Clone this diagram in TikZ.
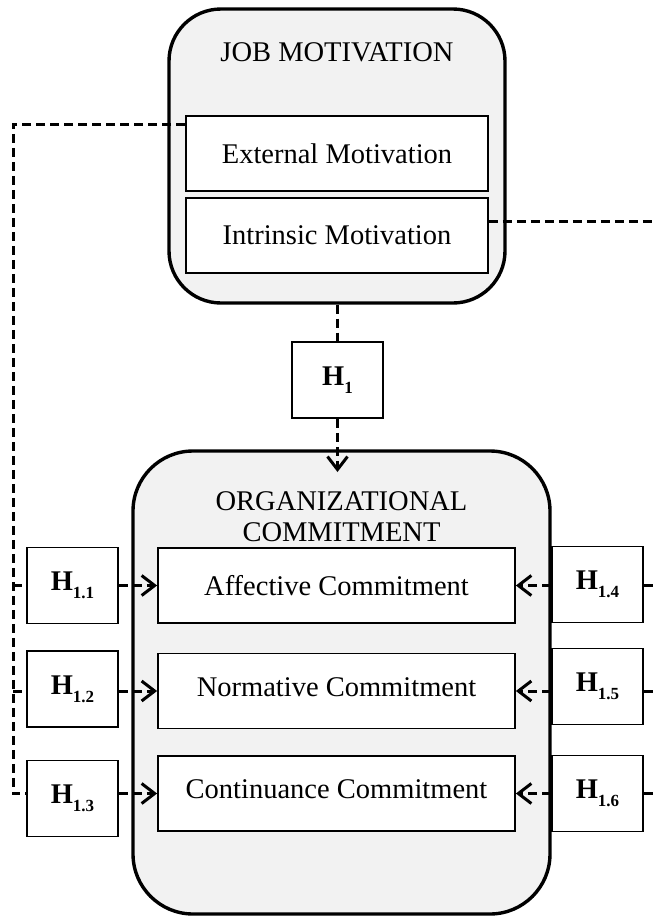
\documentclass[tikz,border=0pt]{standalone}
\usepackage{fontspec}
\setmainfont{Liberation Serif}
\usetikzlibrary{arrows.meta,calc}
\definecolor{boxgray}{RGB}{242,242,242}
\newcommand\hlab[1]{\textbf{H\raisebox{-0.28em}{\fontsize{17}{17}\selectfont\textbf{#1}}}}
\begin{document}
\begin{tikzpicture}[x=1pt,y=-1pt,
  font=\fontsize{28.5}{32}\selectfont,
  outerbox/.style={draw, line width=3.4pt, fill=boxgray, rounded corners=52pt, inner sep=0pt},
  innerbox/.style={draw, line width=1.8pt, fill=white, inner sep=0pt, minimum width=302pt, minimum height=75pt},
  commbox/.style={draw, line width=1.8pt, fill=white, inner sep=0pt, minimum width=357pt, minimum height=75pt},
  hbox/.style={draw, line width=1.8pt, fill=white, inner sep=0pt, minimum width=91pt, minimum height=76pt},
  dline/.style={line width=3pt, dash pattern=on 9pt off 5pt},
  arr/.style={dline, -{Straight Barb[length=13pt,width=20pt,line width=3pt]}}]
\useasboundingbox (0,0) rectangle (656,916);
% Job motivation
\node[outerbox, minimum width=336pt, minimum height=294pt] (job) at (337,156) {};
\node (jobtitle) at (337,52) {JOB MOTIVATION};
\node[innerbox] (ext) at (337,153.5) {External Motivation};
\node[innerbox] (int) at (337,235.5) {Intrinsic Motivation};
% H1
\node[hbox] (h1) at (337.5,380) {\hlab{1}};
% Organizational commitment
\node[outerbox, rounded corners=60pt, minimum width=417pt, minimum height=463pt] (org) at (341.5,682.5) {};
\node[align=center, font=\fontsize{28.5}{31}\selectfont] (orgtitle) at (341.5,517) {ORGANIZATIONAL\\COMMITMENT};
\node[commbox] (aff) at (336.5,585.5) {\raisebox{1pt}{Affective Commitment}};
\node[commbox] (norm) at (336.5,691) {\raisebox{8pt}{Normative Commitment}};
\node[commbox] (cont) at (336.5,793.5) {\raisebox{9pt}{Continuance Commitment}};
% hypothesis boxes
\node[hbox] (h11) at (72.5,585.5) {\hlab{1.1}};
\node[hbox] (h12) at (72.5,689) {\hlab{1.2}};
\node[hbox] (h13) at (72.5,798.5) {\hlab{1.3}};
\node[hbox] (h14) at (597.5,584.5) {\hlab{1.4}};
\node[hbox] (h15) at (597.5,686.5) {\hlab{1.5}};
\node[hbox] (h16) at (597.5,793.5) {\hlab{1.6}};
% connectors
\coordinate (lx) at (13,0);
\coordinate (rx) at (656,0);
\draw[dline] (ext.west |- 0,124) -| (lx |- cont.west) -- (h13.west |- cont.west);
\draw[dline] (lx |- aff.west) -- (h11.west |- aff.west);
\draw[dline] (lx |- norm.west) -- (h12.west |- norm.west);
\draw[dline] (int.east |- 0,221) -- (rx |- 0,221);
\draw[dline] (h14.east |- aff.east) -- (rx |- aff.east);
\draw[dline] (h15.east |- norm.east) -- (rx |- norm.east);
\draw[dline] (h16.east |- cont.east) -- (rx |- cont.east);
\draw[dline] (job.south -| h1.north) -- (h1.north);
\coordinate (h1tip) at (337.5,472);
\draw[arr] (h1.south) -- (h1tip);
\draw[arr] (h11.east |- aff.west) -- (aff.west);
\draw[arr] (h12.east |- norm.west) -- (norm.west);
\draw[arr] (h13.east |- cont.west) -- (cont.west);
\draw[arr] (h14.west |- aff.east) -- (aff.east);
\draw[arr] (h15.west |- norm.east) -- (norm.east);
\draw[arr] (h16.west |- cont.east) -- (cont.east);
\end{tikzpicture}
\end{document}
